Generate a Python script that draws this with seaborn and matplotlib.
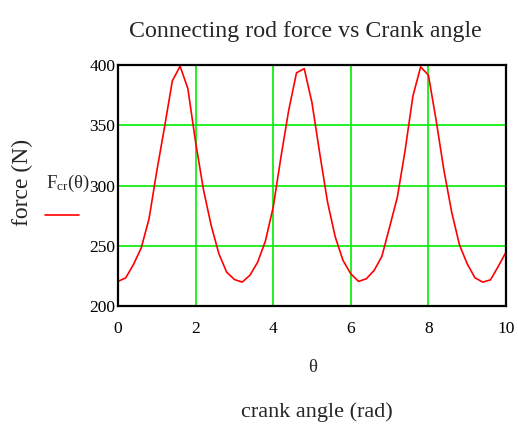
import numpy as np
import pandas as pd
import matplotlib
matplotlib.use("Agg")
import matplotlib.pyplot as plt
import seaborn as sns

theta = [0.0, 0.2, 0.4, 0.6, 0.8, 1.0, 1.2, 1.4, 1.6, 1.8,
         2.0, 2.2, 2.4, 2.6, 2.8, 3.0, 3.2, 3.4, 3.6, 3.8,
         4.0, 4.2, 4.4, 4.6, 4.8, 5.0, 5.2, 5.4, 5.6, 5.8,
         6.0, 6.2, 6.4, 6.6, 6.8, 7.0, 7.2, 7.4, 7.6, 7.8,
         8.0, 8.2, 8.4, 8.6, 8.8, 9.0, 9.2, 9.4, 9.6, 9.8, 10.0]
force = [220.4, 223.4, 234.5, 248.3, 272.4, 312.0, 348.6, 386.8, 399.0, 380.5,
         336.0, 297.0, 267.0, 243.4, 228.1, 222.0, 219.8, 225.5, 236.4, 254.0,
         282.0, 323.7, 362.5, 393.5, 397.0, 368.6, 326.5, 286.3, 257.2, 237.8,
         226.7, 220.4, 222.6, 229.5, 241.1, 265.5, 290.4, 329.2, 374.1, 398.5,
         391.6, 354.0, 312.6, 278.0, 250.8, 235.0, 223.4, 219.8, 221.7, 232.8, 244.7]
xticks = [0, 2, 4, 6, 8, 10]
yticks = [200, 250, 300, 350, 400]

sns.set_style("white")
plt.rcParams['font.family'] = ['Liberation Serif', 'DejaVu Serif']
plt.rcParams['mathtext.fontset'] = 'custom'
plt.rcParams['mathtext.rm'] = 'Liberation Serif'
plt.rcParams['mathtext.it'] = 'Liberation Serif'

df = pd.DataFrame({"theta": theta, "force": force})

fig = plt.figure(figsize=(5.18, 4.34), dpi=100)
ax = fig.add_axes([118/518, 1-306/434, (506-118)/518, (306-65)/434])

sns.lineplot(data=df, x="theta", y="force", ax=ax, color="#ff0000", lw=1.2)

ax.set_xlim(0, 10)
ax.set_ylim(200, 400)
ax.set_xticks(xticks)
ax.set_yticks(yticks)
ax.set_xticklabels([str(t) for t in xticks])
ax.set_yticklabels([str(t) for t in yticks])
ax.grid(True, color="#00ee00", lw=1.2)
ax.set_axisbelow(True)
for s in ax.spines.values():
    s.set_color("black")
    s.set_linewidth(1.6)
ax.tick_params(axis="both", length=0, labelsize=12.5, colors="black")
ax.tick_params(axis="x", pad=11)
ax.tick_params(axis="y", pad=2)
ax.set_xlabel("")
ax.set_ylabel("")

fig.text(305/518, 1-31/434, "Connecting rod force vs Crank angle",
         ha="center", va="center", fontsize=17.2)
fig.text(313/518, 1-368/434, "θ", ha="center", va="center", fontsize=13.5)
fig.text(317/518, 1-412/434, "crank angle (rad)", ha="center", va="center", fontsize=16)
fig.text(22/518, 1-182/434, "force (N)", ha="center", va="center",
         rotation=90, fontsize=17)
fig.text(68/518, 1-183/434, r"F$_{\mathrm{cr}}$(θ)", ha="center", va="center", fontsize=13.5)
fig.add_artist(plt.Line2D([45/518, 79/518], [1-215/434, 1-215/434],
                          color="#ff0000", lw=1.2, transform=fig.transFigure))

fig.savefig("out.png", dpi=100)
